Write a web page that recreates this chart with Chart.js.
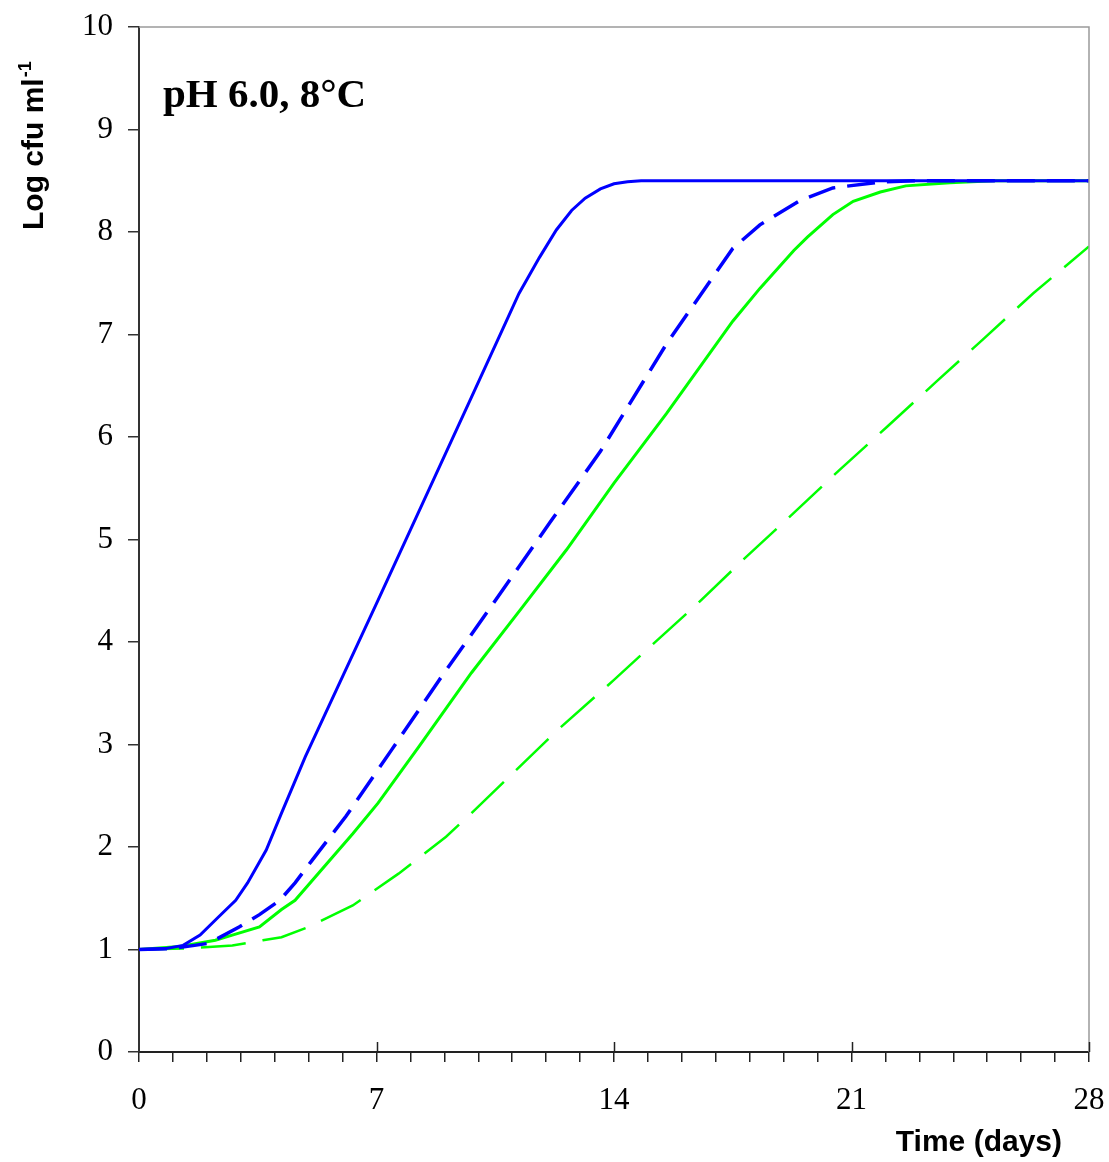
<!DOCTYPE html>
<html lang="en">

<head>
    <meta charset="UTF-8">
    <title>pH 6.0, 8°C</title>
    <script src="https://cdn.jsdelivr.net/npm/chart.js"></script>
    <style>
        html, body { margin: 0; padding: 0; background: #fff; }
        canvas { display: block; }
    </style>
</head>

<body>
    <canvas id="growthChart" width="1109" height="1162"></canvas>

    <script>
        // valores (dias, log cfu/ml)
        const blueSolidDays = [0, 0.8, 1.3, 1.8, 2.35, 2.85, 3.2, 3.75, 4.2, 4.9, 7.05, 9.8, 10.8, 11.2, 11.8, 12.3, 12.75, 13.15, 13.6, 14.0, 14.4, 14.8, 28];
        const blueSolidLog = [1.0, 1.01, 1.04, 1.14, 1.32, 1.48, 1.65, 1.97, 2.33, 2.88, 4.41, 6.39, 7.11, 7.40, 7.75, 8.02, 8.21, 8.33, 8.42, 8.47, 8.49, 8.5, 8.5];

        const blueDashDays = [0, 1.0, 2.05, 2.95, 3.55, 4.15, 4.6, 5.1, 6.1, 7.45, 8.85, 10.3, 12.1, 13.6, 15.55, 17.5, 18.3, 19.5, 20.45, 21.9, 23.0, 28];
        const blueDashLog = [1.0, 1.01, 1.06, 1.22, 1.34, 1.48, 1.65, 1.87, 2.30, 2.95, 3.63, 4.31, 5.16, 5.86, 6.91, 7.84, 8.07, 8.31, 8.43, 8.49, 8.5, 8.5];

        const greenSolidDays = [0, 1.2, 2.25, 2.75, 3.55, 4.2, 4.6, 6.3, 7.05, 8.25, 9.8, 11.3, 12.6, 14.0, 15.55, 17.5, 18.3, 19.3, 19.7, 20.45, 21.05, 21.85, 22.6, 23.9, 25.2, 28];
        const greenSolidLog = [1.0, 1.03, 1.09, 1.14, 1.22, 1.39, 1.48, 2.13, 2.43, 2.98, 3.70, 4.34, 4.90, 5.55, 6.23, 7.13, 7.45, 7.82, 7.95, 8.17, 8.30, 8.39, 8.45, 8.48, 8.5, 8.5];

        const greenDashDays = [0, 1.4, 2.75, 3.65, 4.2, 5.0, 6.3, 7.65, 9.05, 9.8, 10.8, 12.3, 14.0, 15.05, 16.45, 17.8, 19.3, 20.65, 22.05, 23.5, 24.9, 26.35, 28];
        const greenDashLog = [1.0, 1.01, 1.04, 1.09, 1.12, 1.22, 1.43, 1.74, 2.10, 2.33, 2.65, 3.13, 3.63, 3.95, 4.37, 4.80, 5.26, 5.68, 6.10, 6.54, 6.96, 7.40, 7.86];

        const xMajorTicks = [0, 7, 14, 21, 28];
        const yTicks = [0, 1, 2, 3, 4, 5, 6, 7, 8, 9, 10];

        function pares(dias, valores) {
            return dias.map((d, i) => ({ x: d, y: valores[i] }));
        }

        // moldura, marcas maiores e textos
        const extras = {
            id: 'extras',
            afterDraw(chart) {
                const ctx = chart.ctx;
                const a = chart.chartArea;
                const xs = chart.scales.x;
                ctx.save();

                // borda superior e direita em cinza
                ctx.strokeStyle = '#9a9a9a';
                ctx.lineWidth = 1.5;
                ctx.beginPath();
                ctx.moveTo(a.left, a.top);
                ctx.lineTo(a.right, a.top);
                ctx.lineTo(a.right, a.bottom);
                ctx.stroke();

                // marcas maiores atravessam o eixo x
                ctx.strokeStyle = '#222';
                ctx.lineWidth = 1.5;
                xMajorTicks.forEach(v => {
                    if (v === 0) return;
                    const px = Math.round(xs.getPixelForValue(v)) + 0.5;
                    ctx.beginPath();
                    ctx.moveTo(px, a.bottom - 10);
                    ctx.lineTo(px, a.bottom);
                    ctx.stroke();
                });

                ctx.fillStyle = '#000';

                // anotação
                ctx.font = 'bold 41px "Liberation Serif"';
                ctx.textAlign = 'left';
                ctx.textBaseline = 'alphabetic';
                ctx.fillText('pH 6.0, 8°C', 163, 107);

                // título do eixo x
                ctx.font = 'bold 30px "Liberation Sans"';
                ctx.textAlign = 'right';
                ctx.fillText('Time (days)', 1062, 1151);

                // título do eixo y (rotacionado, com sobrescrito)
                ctx.translate(43, 230);
                ctx.rotate(-Math.PI / 2);
                ctx.textAlign = 'left';
                ctx.font = 'bold 30px "Liberation Sans"';
                const base = 'Log cfu ml';
                ctx.fillText(base, 0, 0);
                const w = ctx.measureText(base).width;
                ctx.font = 'bold 18px "Liberation Sans"';
                ctx.fillText('-1', w + 1, -12);

                ctx.restore();
            }
        };

        const ctx = document.getElementById('growthChart').getContext('2d');
        new Chart(ctx, {
            type: 'line',
            data: {
                datasets: [
                    {
                        data: pares(blueSolidDays, blueSolidLog),
                        borderColor: '#0000ff',
                        borderWidth: 3
                    },
                    {
                        data: pares(blueDashDays, blueDashLog),
                        borderColor: '#0000ff',
                        borderWidth: 3.5,
                        borderDash: [28, 12]
                    },
                    {
                        data: pares(greenSolidDays, greenSolidLog),
                        borderColor: '#00ff00',
                        borderWidth: 3
                    },
                    {
                        data: pares(greenDashDays, greenDashLog),
                        borderColor: '#00ff00',
                        borderWidth: 2.5,
                        borderDash: [45, 17]
                    }
                ]
            },
            options: {
                responsive: false,
                animation: false,
                events: [],
                elements: {
                    point: { radius: 0 },
                    line: { tension: 0, fill: false, borderCapStyle: 'butt' }
                },
                layout: {
                    padding: { top: 27, right: 20, left: 0, bottom: 0 }
                },
                plugins: {
                    legend: { display: false },
                    tooltip: { enabled: false },
                    title: { display: false }
                },
                scales: {
                    x: {
                        type: 'linear',
                        min: 0,
                        max: 28,
                        afterFit: s => {
                            s.height = 110;
                            s.paddingLeft = 0;
                            s.paddingRight = 0;
                        },
                        afterBuildTicks: s => {
                            const t = [];
                            for (let d = 0; d <= 28; d++) t.push({ value: d });
                            s.ticks = t;
                        },
                        ticks: {
                            autoSkip: false,
                            maxRotation: 0,
                            padding: 20,
                            color: '#000',
                            font: { family: 'Liberation Serif', size: 31 },
                            callback: v => xMajorTicks.includes(v) ? String(v) : ''
                        },
                        grid: {
                            drawOnChartArea: false,
                            drawTicks: true,
                            tickLength: 10,
                            color: '#222',
                            lineWidth: 1.5
                        },
                        border: { display: true, color: '#222', width: 2 }
                    },
                    y: {
                        type: 'linear',
                        min: 0,
                        max: 10,
                        afterFit: s => {
                            s.width = 139;
                            s.paddingTop = 0;
                            s.paddingBottom = 0;
                        },
                        afterBuildTicks: s => { s.ticks = yTicks.map(v => ({ value: v })); },
                        ticks: {
                            padding: 15,
                            color: '#000',
                            font: { family: 'Liberation Serif', size: 31 }
                        },
                        grid: {
                            drawOnChartArea: false,
                            drawTicks: true,
                            tickLength: 11,
                            color: '#333',
                            lineWidth: 1.5
                        },
                        border: { display: true, color: '#333', width: 2 }
                    }
                }
            },
            plugins: [extras]
        });
    </script>
</body>

</html>
